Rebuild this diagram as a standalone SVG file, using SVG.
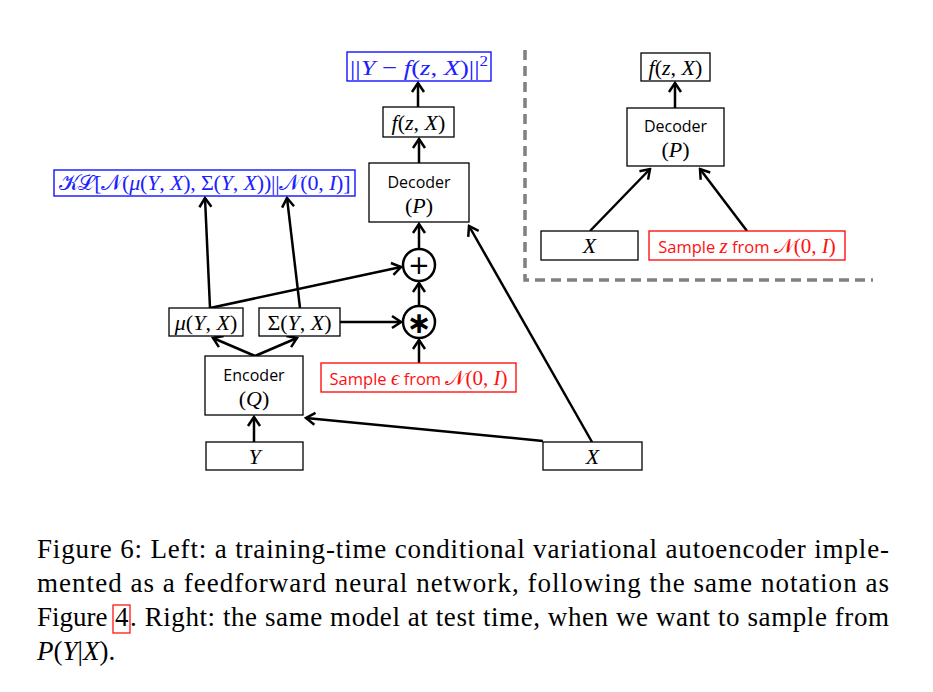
<svg xmlns="http://www.w3.org/2000/svg" width="933" height="692" viewBox="0 0 933 692">
<style>
.b{fill:#fff;stroke:#000;stroke-width:1.3}
.bb{fill:#fff;stroke:#0000ff;stroke-width:1.3}
.br{fill:#fff;stroke:#ff0000;stroke-width:1.3}
.m{font-family:"Liberation Serif",serif;font-size:22px;text-anchor:middle}
.i{font-style:italic}
.s{font-family:"Open Sans","Liberation Sans",sans-serif;font-size:16px;text-anchor:middle;fill:#000}
.blue{fill:#2020ff}
.red{fill:#ff1010}
.c{stroke:#000;stroke-width:2.5;fill:none}
.cap{font-family:"Liberation Serif",serif;font-size:27px;fill:#000}
</style>
<defs>
<marker id="a" viewBox="-12 -8 14 16" refX="0" refY="0" markerWidth="14" markerHeight="16" orient="auto" markerUnits="userSpaceOnUse">
<path d="M-9,-6 L0,0 L-9,6" fill="none" stroke="#000" stroke-width="2.5"/>
</marker>
</defs>
<rect width="933" height="692" fill="#fff"/>

<g id="connectors">
<line class="c" x1="418" y1="107" x2="418" y2="83" marker-end="url(#a)"/>
<line class="c" x1="419" y1="163" x2="419" y2="139" marker-end="url(#a)"/>
<line class="c" x1="419" y1="249" x2="419" y2="224" marker-end="url(#a)"/>
<line class="c" x1="419" y1="306" x2="419" y2="283" marker-end="url(#a)"/>
<line class="c" x1="419" y1="363" x2="419" y2="340" marker-end="url(#a)"/>
<line class="c" x1="340" y1="322" x2="401" y2="322" marker-end="url(#a)"/>
<line class="c" x1="210" y1="308" x2="401" y2="267" marker-end="url(#a)"/>
<line class="c" x1="210" y1="308" x2="205" y2="198" marker-end="url(#a)"/>
<line class="c" x1="300" y1="308" x2="287" y2="198" marker-end="url(#a)"/>
<line class="c" x1="255" y1="356" x2="213" y2="338" marker-end="url(#a)"/>
<line class="c" x1="255" y1="356" x2="297" y2="338" marker-end="url(#a)"/>
<line class="c" x1="254" y1="442" x2="254" y2="417" marker-end="url(#a)"/>
<line class="c" x1="543" y1="441" x2="306" y2="418" marker-end="url(#a)"/>
<line class="c" x1="592" y1="442" x2="469" y2="226" marker-end="url(#a)"/>
<line class="c" x1="675" y1="108" x2="675" y2="83" marker-end="url(#a)"/>
<line class="c" x1="590" y1="231" x2="650" y2="169" marker-end="url(#a)"/>
<line class="c" x1="747" y1="231" x2="700" y2="169" marker-end="url(#a)"/>
</g>

<g id="divider">
<path d="M525,50 L525,280 L873,280" fill="none" stroke="#808080" stroke-width="3.5" stroke-dasharray="10 6"/>
</g>

<g id="loss">
<rect class="bb" x="347" y="52" width="144" height="29"/>
<text class="m blue" x="419" y="75" textLength="138" lengthAdjust="spacingAndGlyphs">||<tspan class="i">Y</tspan> − <tspan class="i">f</tspan>(<tspan class="i">z</tspan>, <tspan class="i">X</tspan>)||<tspan font-size="14" dy="-9">2</tspan></text>
</g>

<g id="fzx">
<rect class="b" x="383" y="107" width="71" height="30"/>
<text class="m" x="418.5" y="130"><tspan class="i">f</tspan>(<tspan class="i">z</tspan>, <tspan class="i">X</tspan>)</text>
</g>

<g id="decoder">
<rect class="b" x="369" y="163" width="100" height="59"/>
<text class="s" x="419" y="188">Decoder</text>
<text class="m" x="419" y="213" font-size="20">(<tspan class="i">P</tspan>)</text>
</g>

<g id="kl">
<rect class="bb" x="54" y="170" width="301" height="26"/>
<text class="m blue" x="204.5" y="190" font-size="18.5" textLength="292" lengthAdjust="spacing">𝒦ℒ[𝒩(<tspan class="i">μ</tspan>(<tspan class="i">Y</tspan>, <tspan class="i">X</tspan>), Σ(<tspan class="i">Y</tspan>, <tspan class="i">X</tspan>))||𝒩(0, <tspan class="i">I</tspan>)]</text>
</g>

<g id="plus">
<circle cx="419" cy="265" r="16" fill="#fff" stroke="#000" stroke-width="2.5"/>
<text x="419" y="274" font-family="DejaVu Sans,sans-serif" font-size="26" text-anchor="middle">+</text>
</g>

<g id="star">
<circle cx="419" cy="322" r="16" fill="#fff" stroke="#000" stroke-width="2.5"/>
<text x="419" y="333" font-family="DejaVu Sans,sans-serif" font-size="30" font-weight="bold" text-anchor="middle">∗</text>
</g>

<g id="mu">
<rect class="b" x="169" y="308" width="74" height="28"/>
<text class="m" x="206" y="330"><tspan class="i">μ</tspan>(<tspan class="i">Y</tspan>, <tspan class="i">X</tspan>)</text>
</g>

<g id="sigma">
<rect class="b" x="259" y="308" width="81" height="28"/>
<text class="m" x="299.5" y="330">Σ(<tspan class="i">Y</tspan>, <tspan class="i">X</tspan>)</text>
</g>

<g id="encoder">
<rect class="b" x="205" y="356" width="98" height="59"/>
<text class="s" x="254" y="381">Encoder</text>
<text class="m" x="254" y="406" font-size="20">(<tspan class="i">Q</tspan>)</text>
</g>

<g id="sample-eps">
<rect class="br" x="321" y="363" width="195" height="29"/>
<text x="418.5" y="385" text-anchor="middle" class="red"><tspan font-family="Open Sans,Liberation Sans,sans-serif" font-size="16.5">Sample </tspan><tspan font-family="Liberation Serif,serif" font-size="21" font-style="italic">ϵ</tspan><tspan font-family="Open Sans,Liberation Sans,sans-serif" font-size="16.5"> from </tspan><tspan font-family="Liberation Serif,serif" font-size="21">𝒩(0, <tspan font-style="italic">I</tspan>)</tspan></text>
</g>

<g id="y">
<rect class="b" x="206" y="442" width="97" height="28"/>
<text class="m" x="254.5" y="464"><tspan class="i">Y</tspan></text>
</g>

<g id="x">
<rect class="b" x="543" y="442" width="99" height="28"/>
<text class="m" x="592.5" y="464"><tspan class="i">X</tspan></text>
</g>

<g id="fzx-test">
<rect class="b" x="641" y="53" width="69" height="28"/>
<text class="m" x="675.5" y="75"><tspan class="i">f</tspan>(<tspan class="i">z</tspan>, <tspan class="i">X</tspan>)</text>
</g>

<g id="decoder-test">
<rect class="b" x="627" y="108" width="97" height="58"/>
<text class="s" x="675.5" y="132">Decoder</text>
<text class="m" x="675.5" y="157" font-size="20">(<tspan class="i">P</tspan>)</text>
</g>

<g id="x-test">
<rect class="b" x="541" y="231" width="97" height="29"/>
<text class="m" x="589.5" y="253"><tspan class="i">X</tspan></text>
</g>

<g id="sample-z">
<rect class="br" x="649" y="231" width="196" height="29"/>
<text x="747" y="253" text-anchor="middle" class="red"><tspan font-family="Open Sans,Liberation Sans,sans-serif" font-size="16.5">Sample </tspan><tspan font-family="Liberation Serif,serif" font-size="21" font-style="italic">z</tspan><tspan font-family="Open Sans,Liberation Sans,sans-serif" font-size="16.5"> from </tspan><tspan font-family="Liberation Serif,serif" font-size="21">𝒩(0, <tspan font-style="italic">I</tspan>)</tspan></text>
</g>

<g id="caption">
<text class="cap" x="37" y="558" textLength="852" lengthAdjust="spacing">Figure 6: Left: a training-time conditional variational autoencoder imple-</text>
<text class="cap" x="37" y="592" textLength="852" lengthAdjust="spacing">mented as a feedforward neural network, following the same notation as</text>
<text class="cap" x="37" y="626">Figure</text>
<text class="cap" x="115" y="626">4</text>
<rect x="113" y="605" width="17" height="28" fill="none" stroke="#ff0000" stroke-width="1.2"/>
<text class="cap" x="130" y="626" textLength="759" lengthAdjust="spacing">. Right: the same model at test time, when we want to sample from</text>
<text class="cap" x="37" y="660"><tspan font-style="italic">P</tspan>(<tspan font-style="italic">Y</tspan>|<tspan font-style="italic">X</tspan>).</text>
</g>
</svg>
